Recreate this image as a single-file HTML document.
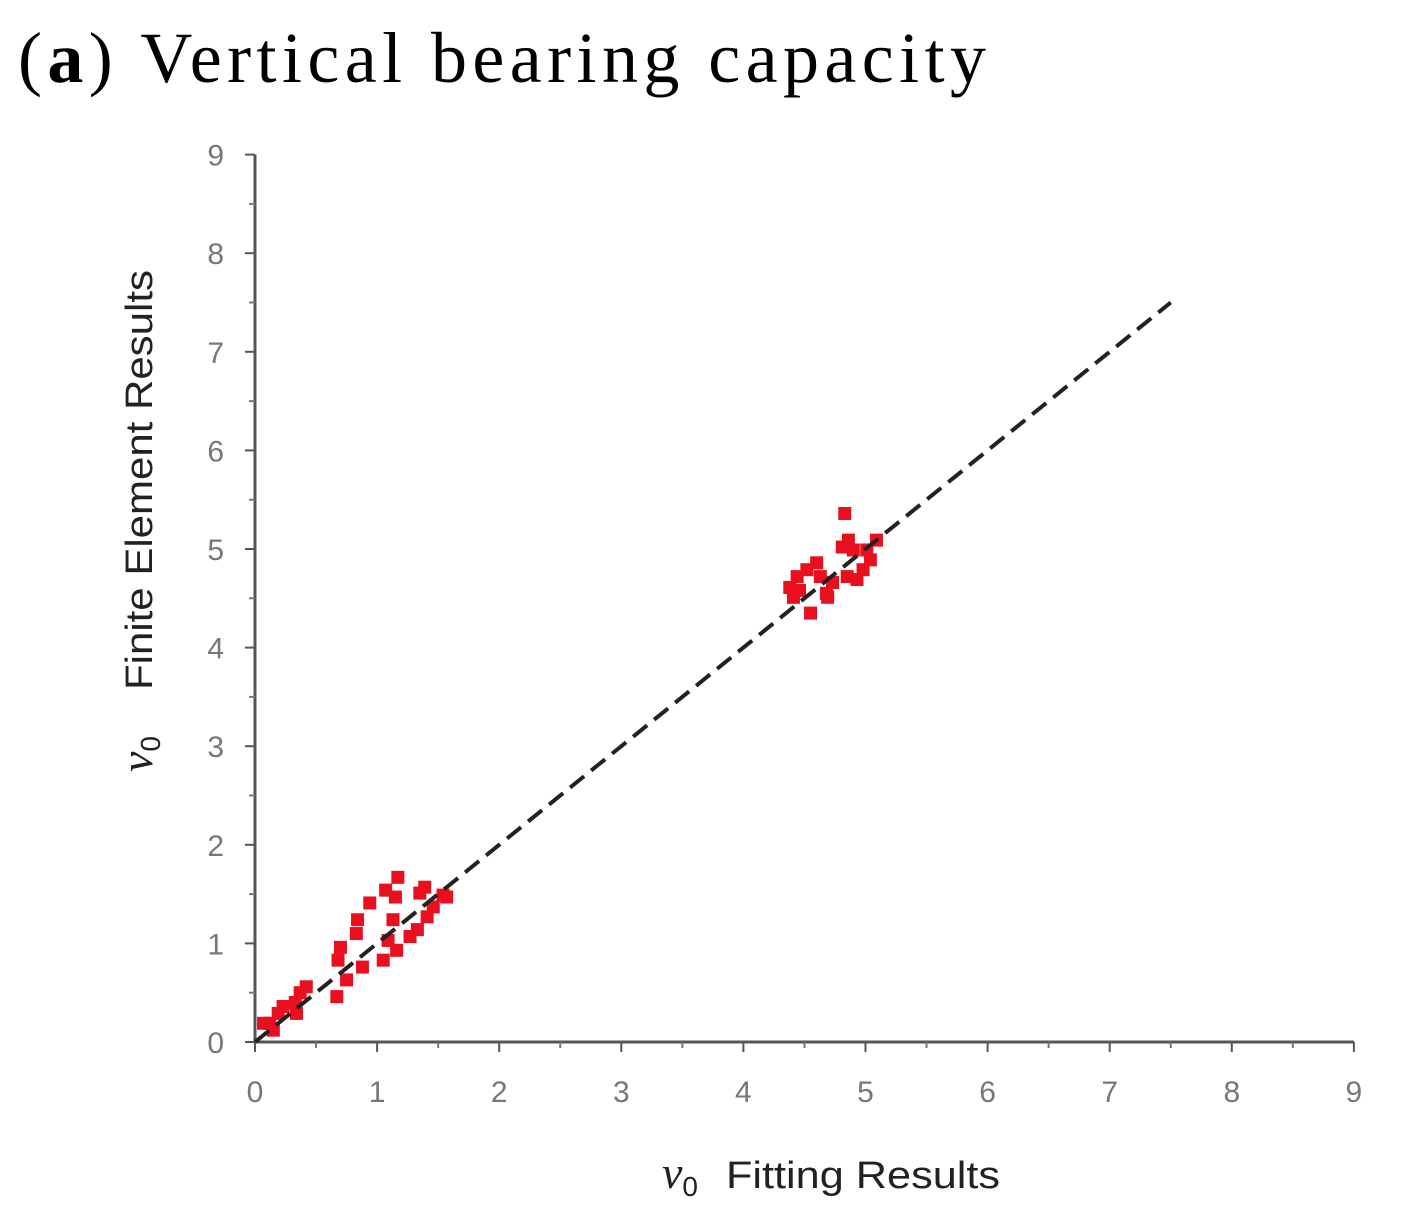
<!DOCTYPE html>
<html><head><meta charset="utf-8"><style>
body{margin:0;background:#fff;}
svg{display:block;}
</style></head><body>
<svg id="chart" width="1409" height="1223">
<text x="18" y="82" font-family="Liberation Serif, serif" font-size="72" fill="#000" textLength="968" lengthAdjust="spacing">(<tspan font-weight="bold">a</tspan>) Vertical bearing capacity</text>
<g id="axes"></g>
<g id="marks"></g>
<text x="662" y="1188" font-family="Liberation Sans, sans-serif" font-size="38" fill="#222"><tspan font-family="Liberation Serif, serif" font-style="italic" font-size="46">v</tspan><tspan font-size="28" dy="8">0</tspan><tspan dy="-8" x="726" textLength="274" lengthAdjust="spacingAndGlyphs">Fitting Results</tspan></text>
<text transform="translate(152,772) rotate(-90)" font-family="Liberation Sans, sans-serif" font-size="38" fill="#222"><tspan font-family="Liberation Serif, serif" font-style="italic" font-size="46">v</tspan><tspan font-size="28" dy="8">0</tspan><tspan dy="-8" x="82" textLength="420" lengthAdjust="spacingAndGlyphs">Finite Element Results</tspan></text>
</svg>
<script>
const ticks=[0,1,2,3,4,5,6,7,8,9];
const xs=[1.17,1.07,0.94,1.15,0.84,0.83,0.70,0.68,0.75,0.67,0.88,1.05,1.16,1.27,1.33,1.41,1.46,1.35,1.54,1.39,1.57,1.13,1.09,0.42,0.37,0.33,0.34,0.23,0.19,0.12,0.15,0.07,
4.83,4.86,4.81,4.90,5.01,5.04,4.98,4.85,4.73,4.68,4.60,4.52,4.44,4.38,4.46,4.41,4.55,4.69,5.09,4.63,4.93];
const ys=[1.67,1.54,1.41,1.47,1.24,1.10,0.96,0.83,0.63,0.46,0.76,0.83,0.93,1.07,1.14,1.27,1.37,1.51,1.49,1.57,1.47,1.24,1.03,0.56,0.50,0.40,0.29,0.36,0.29,0.19,0.12,0.19,
5.36,5.09,5.02,4.99,4.99,4.89,4.79,4.72,4.66,4.55,4.86,4.79,4.72,4.61,4.58,4.51,4.35,4.51,5.09,4.72,4.69];
const fitLine=[0,7.5];
const X=v=>255+v*122.1, Y=v=>1042-v*98.6;
const NS='http://www.w3.org/2000/svg';
const ax=document.getElementById('axes'), mk=document.getElementById('marks');
function mkEl(t,a,p){const e=document.createElementNS(NS,t);for(const k in a)e.setAttribute(k,a[k]);p.appendChild(e);return e;}
let e=mkEl('line',{x1:X(0),y1:Y(0),x2:X(9),y2:Y(0),stroke:'#555','stroke-width':3},ax);


e=mkEl('line',{x1:X(0),y1:Y(0),x2:X(0),y2:Y(9),stroke:'#555','stroke-width':3},ax);


ticks.forEach(t=>{
 mkEl('line',{x1:X(t),y1:Y(0),x2:X(t),y2:Y(0)+10,stroke:'#555','stroke-width':2},ax);
 mkEl('line',{x1:X(0),y1:Y(t),x2:X(0)-10,y2:Y(t),stroke:'#555','stroke-width':2},ax);
 if(t<9){mkEl('line',{x1:X(t+0.5),y1:Y(0),x2:X(t+0.5),y2:Y(0)+6,stroke:'#777','stroke-width':2},ax);
 mkEl('line',{x1:X(0),y1:Y(t+0.5),x2:X(0)-6,y2:Y(t+0.5),stroke:'#777','stroke-width':2},ax);}
 let l=mkEl('text',{x:X(t),y:1102,'text-anchor':'middle','font-family':'Liberation Sans, sans-serif','font-size':30,fill:'#777'},ax);
 l.textContent=t;
 
 
 l=mkEl('text',{x:224,y:Y(t)+11,'text-anchor':'end','font-family':'Liberation Sans, sans-serif','font-size':30,fill:'#777'},ax);
 l.textContent=t;
 
 
});
xs.forEach((v,i)=>{
 const c=mkEl('rect',{x:X(v)-6.5,y:Y(ys[i])-6.5,width:13,height:13,fill:'#e8101e'},mk);
 
 
});
e=mkEl('line',{x1:X(fitLine[0]),y1:Y(fitLine[0]),x2:X(fitLine[1]),y2:Y(fitLine[1]),stroke:'#222','stroke-width':4,'stroke-dasharray':'18 9'},mk);


</script>
</body></html>
